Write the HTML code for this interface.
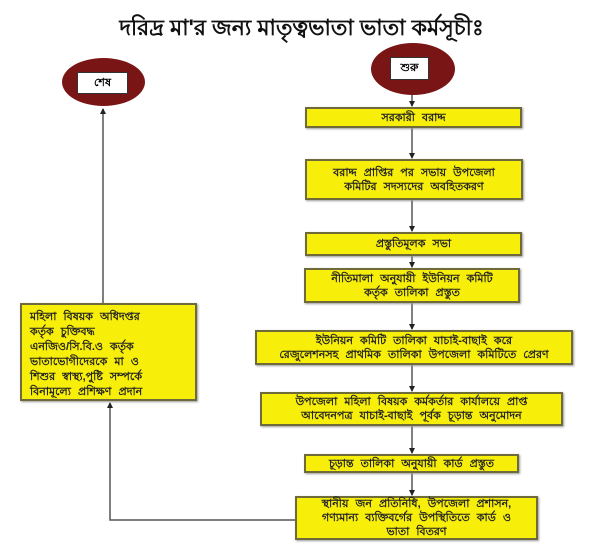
<!DOCTYPE html>
<html><head><meta charset="utf-8"><style>
body{margin:0;width:603px;height:555px;background:#fff;position:relative;overflow:hidden;font-family:"Liberation Sans","Noto Sans CJK SC",sans-serif;}
.t{position:absolute;left:0;width:603px;top:11px;text-align:center;font-size:22px;font-weight:bold;color:#111;}
.b{position:absolute;background:#f7ee0a;border:2px solid #6e6a3a;box-sizing:border-box;display:flex;align-items:center;justify-content:center;text-align:center;font-size:11px;font-weight:bold;word-spacing:4px;line-height:14px;color:#222;box-shadow:1px 1px 2px #999;white-space:nowrap;}
.e{position:absolute;background:#7a1515;border-radius:50%;}
.w{position:absolute;background:#fff;border:1px solid #333;box-sizing:border-box;font-size:11px;font-weight:bold;display:flex;align-items:center;justify-content:center;}
svg{position:absolute;left:0;top:0;}
</style></head><body>
<div class="t">দরিদ্র মা'র জন্য মাতৃত্বভাতা ভাতা কর্মসূচীঃ</div>
<svg width="603" height="555">
<defs><marker id="a" markerWidth="6" markerHeight="6" refX="5" refY="3" orient="auto" markerUnits="userSpaceOnUse"><path d="M0,0 L6,3 L0,6 z" fill="#222"/></marker></defs>
<g stroke="#555" stroke-width="1.5" fill="none">
<line x1="412" y1="95" x2="412" y2="106" marker-end="url(#a)"/>
<line x1="412" y1="128" x2="412" y2="158" marker-end="url(#a)"/>
<line x1="412" y1="200" x2="412" y2="231" marker-end="url(#a)"/>
<line x1="412" y1="256" x2="412" y2="267" marker-end="url(#a)"/>
<line x1="412" y1="303" x2="412" y2="329" marker-end="url(#a)"/>
<line x1="412" y1="365" x2="412" y2="391" marker-end="url(#a)"/>
<line x1="412" y1="426" x2="412" y2="453" marker-end="url(#a)"/>
<line x1="412" y1="473" x2="412" y2="495" marker-end="url(#a)"/>
<polyline points="295,520 110,520 110,403" marker-end="url(#a)"/>
<line x1="103" y1="303" x2="103" y2="109" marker-end="url(#a)"/>
</g></svg>
<div class="e" style="left:371px;top:43px;width:84px;height:52px"></div>
<div class="w" style="left:390px;top:57px;width:39px;height:23px">শুরু</div>
<div class="e" style="left:62px;top:58px;width:83px;height:48px"></div>
<div class="w" style="left:77px;top:72px;width:51px;height:22px">শেষ</div>
<div class="b" style="left:305px;top:107px;width:217px;height:21px">সরকারী বরাদ্দ</div>
<div class="b" style="left:305px;top:159px;width:218px;height:41px">বরাদ্দ প্রাপ্তির পর সভায় উপজেলা<br>কমিটির সদস্যদের অবহিতকরণ</div>
<div class="b" style="left:305px;top:232px;width:217px;height:24px">প্রস্তুতিমূলক সভা</div>
<div class="b" style="left:304px;top:268px;width:216px;height:35px">নীতিমালা অনুযায়ী ইউনিয়ন কমিটি<br>কর্তৃক তালিকা প্রস্তুত</div>
<div class="b" style="left:255px;top:330px;width:318px;height:35px">ইউনিয়ন কমিটি তালিকা যাচাই-বাছাই করে<br>রেজুলেশনসহ প্রাথমিক তালিকা উপজেলা কমিটিতে প্রেরণ</div>
<div class="b" style="left:260px;top:392px;width:303px;height:34px">উপজেলা মহিলা বিষয়ক কর্মকর্তার কার্যালয়ে প্রাপ্ত<br>আবেদনপত্র যাচাই-বাছাই পূর্বক চূড়ান্ত অনুমোদন</div>
<div class="b" style="left:304px;top:454px;width:215px;height:19px">চূড়ান্ত তালিকা অনুযায়ী কার্ড প্রস্তুত</div>
<div class="b" style="left:295px;top:496px;width:243px;height:44px">স্থানীয় জন প্রতিনিধি, উপজেলা প্রশাসন,<br>গণ্যমান্য ব্যক্তিবর্গের উপস্থিতিতে কার্ড ও<br>ভাতা বিতরণ</div>
<div class="b" style="left:20px;top:303px;width:177px;height:98px;justify-content:flex-start;align-items:flex-start;text-align:left;padding:5px 8px;line-height:15px;">মহিলা বিষয়ক অধিদপ্তর<br>কর্তৃক চুক্তিবদ্ধ<br>এনজিও/সি.বি.ও কর্তৃক<br>ভাতাভোগীদেরকে মা ও<br>শিশুর স্বাস্থ্য,পুষ্টি সম্পর্কে<br>বিনামূল্যে প্রশিক্ষণ প্রদান</div>
</body></html>
